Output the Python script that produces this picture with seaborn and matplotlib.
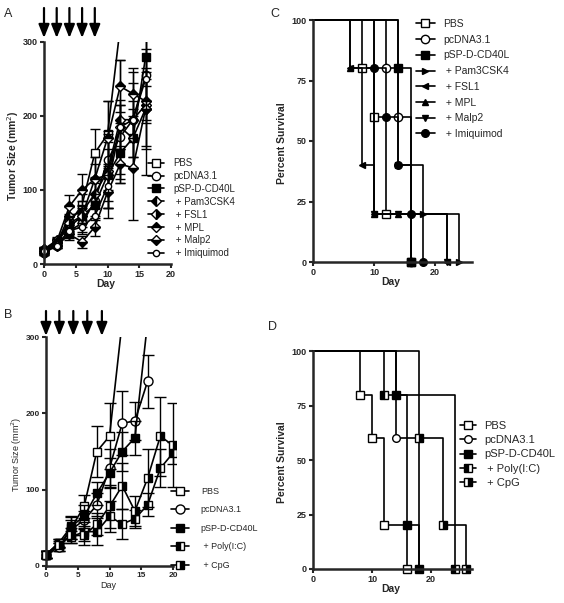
import numpy as np
import matplotlib
matplotlib.use('Agg')
import matplotlib.pyplot as plt
import seaborn as sns

# ---- data ----
# panel A: tumor growth (mm^2), days 0..16
days_a = [0, 2, 4, 6, 8, 10, 12, 14, 16]
pbs_a = [18, 30, 55, 80, 150, 175, 320]
pbs_a_err = [3, 5, 12, 15, 33, 45, 0]
pcdna_a = [15, 25, 45, 55, 85, 140, 172, 195, 255]
pcdna_a_err = [3, 4, 10, 12, 25, 40, 50, 50, 60]
psp_a = [18, 30, 50, 65, 80, 120, 150, 170, 280]
psp_a_err = [3, 4, 8, 10, 15, 45, 40, 25, 40]
pam3_a = [18, 28, 65, 70, 95, 125, 195, 195, 215]
pam3_a_err = [3, 4, 12, 15, 20, 50, 80, 65, 95]
fsl1_a = [20, 32, 55, 65, 115, 120, 185, 170, 210]
fsl1_a_err = [3, 4, 10, 15, 20, 35, 30, 40, 55]
mpl_a = [20, 30, 78, 100, 115, 170, 240, 230, 220]
mpl_a_err = [3, 4, 15, 22, 30, 50, 35, 35, 30]
malp2_a = [15, 25, 40, 30, 50, 97, 135, 130, 210]
malp2_a_err = [3, 3, 8, 8, 12, 35, 25, 70, 50]
imiq_a = [18, 25, 45, 50, 65, 105, 185, 195, 250]
imiq_a_err = [3, 3, 8, 10, 15, 30, 30, 25, 40]

# panel B: tumor growth, days 0..20
days_b = [0, 2, 4, 6, 8, 10, 12, 14, 16, 18, 20]
pbs_b = [15, 25, 50, 78, 150, 170, 320]
pbs_b_err = [4, 5, 15, 15, 33, 43, 0]
pcdna_b = [15, 25, 48, 60, 80, 128, 187, 190, 242]
pcdna_b_err = [4, 5, 12, 12, 15, 25, 42, 25, 35]
psp_b = [15, 30, 52, 65, 95, 122, 150, 168, 320]
psp_b_err = [4, 5, 12, 15, 15, 20, 25, 22, 0]
poly_b = [15, 30, 38, 45, 45, 65, 55, 62, 80, 128, 148]
poly_b_err = [4, 5, 8, 12, 18, 20, 20, 12, 15, 25, 15]
cpg_b = [15, 28, 40, 40, 55, 78, 105, 72, 115, 170, 158]
cpg_b_err = [4, 5, 10, 12, 15, 28, 30, 20, 38, 52, 55]

# panel C: survival (%)
pbs_c_day, pbs_c = [0, 8, 10, 12, 16], [100, 80, 60, 20, 0]
pcdna_c_day, pcdna_c = [0, 12, 14, 16], [100, 80, 60, 0]
psp_c_day, psp_c = [0, 14, 16], [100, 80, 0]
pam3_c_day, pam3_c = [0, 14, 18, 24], [100, 40, 20, 0]
fsl1_c_day, fsl1_c = [0, 6, 8, 10, 22], [100, 80, 40, 20, 0]
mpl_c_day, mpl_c = [0, 6, 10, 14, 16], [100, 80, 20, 20, 0]
malp2_c_day, malp2_c = [0, 10, 14, 22], [100, 20, 20, 0]
imiq_c_day, imiq_c = [0, 10, 12, 14, 16, 18], [100, 80, 60, 40, 20, 0]

# panel D: survival (%)
pbs_d_day, pbs_d = [0, 8, 10, 12, 16], [100, 80, 60, 20, 0]
pcdna_d_day, pcdna_d = [0, 14, 18], [100, 60, 0]
psp_d_day, psp_d = [0, 14, 16, 18], [100, 80, 20, 0]
poly_d_day, poly_d = [0, 12, 24], [100, 80, 0]
cpg_d_day, cpg_d = [0, 18, 22, 26], [100, 60, 20, 0]

labels_a = ['PBS', 'pcDNA3.1', 'pSP-D-CD40L', ' + Pam3CSK4', ' + FSL1', ' + MPL', ' + Malp2', ' + Imiquimod']
labels_b = ['PBS', 'pcDNA3.1', 'pSP-D-CD40L', ' + Poly(I:C)', ' + CpG']
arrow_days_a = [0, 2, 4, 6, 8]
arrow_days_b = [0, 2.1, 4.3, 6.5, 8.8]

# marker styles: (marker, fillstyle, size)
styles_a = [('s', 'none', 5.5), ('o', 'none', 6), ('s', 'full', 5.5), ('D', 'left', 5),
            ('D', 'right', 5), ('D', 'top', 5), ('D', 'bottom', 5), ('o', 'none', 4.5)]
styles_c = [('s', 'none', 5.5), ('o', 'none', 6), ('s', 'full', 5.5), ('>', 'full', 4.5),
            ('<', 'full', 4.5), ('^', 'full', 4.5), ('v', 'full', 4.5), ('o', 'full', 5.5)]
styles_b = [('s', 'none', 6), ('o', 'none', 6.5), ('s', 'full', 6), ('s', 'left', 6), ('s', 'right', 6)]

W, H = 564, 603
sns.set_style('ticks')
plt.rcParams['font.family'] = ['Liberation Sans', 'DejaVu Sans']

fig = plt.figure(figsize=(W / 100, H / 100), dpi=100)


def place(xpx, ypx, xdat, ydat, xlim, ylim):
    # axes rectangle from pixel positions of two known data values
    sx = (xpx[1] - xpx[0]) / (xdat[1] - xdat[0])
    sy = (ypx[1] - ypx[0]) / (ydat[1] - ydat[0])
    left = xpx[0] + (xlim[0] - xdat[0]) * sx
    right = xpx[0] + (xlim[1] - xdat[0]) * sx
    top = ypx[0] + (ylim[1] - ydat[0]) * sy
    bottom = ypx[0] + (ylim[0] - ydat[0]) * sy
    ax = fig.add_axes([left / W, 1 - bottom / H, (right - left) / W, (bottom - top) / H])
    ax.set_xlim(*xlim)
    ax.set_ylim(*ylim)
    return ax


def style_axes(ax, xb, yb, bold=True, size=6.5):
    sns.despine(ax=ax)
    ax.spines['left'].set_position(('data', 0))
    ax.spines['bottom'].set_position(('data', 0))
    ax.spines['left'].set_bounds(*yb)
    ax.spines['bottom'].set_bounds(*xb)
    for s in ['left', 'bottom']:
        ax.spines[s].set_linewidth(1.8)
    ax.tick_params(length=3, width=1.5, pad=1.5, labelsize=size)
    for t in ax.get_xticklabels() + ax.get_yticklabels():
        t.set_fontweight('bold' if bold else 'normal')


def draw_line(ax, x, y, st, label, **kw):
    m, fs, ms = st
    face = 'white' if fs == 'none' else 'black'
    sns.lineplot(x=x, y=y, ax=ax, color='black', lw=1.2, marker=m, markersize=ms,
                 markerfacecolor=face, markerfacecoloralt='white',
                 fillstyle='full' if fs == 'none' else fs,
                 markeredgecolor='black', markeredgewidth=1.0,
                 estimator=None, errorbar=None, label=label, **kw)


def arrows(ax, days, y_tail, y_tip):
    for d in days:
        ax.annotate('', xy=(d, 1 - y_tip / H), xycoords=('data', 'figure fraction'),
                    xytext=(d, 1 - y_tail / H), textcoords=('data', 'figure fraction'),
                    arrowprops=dict(arrowstyle='-|>,head_length=1.0,head_width=0.4',
                                    lw=1.6, color='black', shrinkA=0, shrinkB=0,
                                    mutation_scale=8),
                    annotation_clip=False)


# ---------- Panel A ----------
axA = place((44, 171), (264, 42), (0, 20), (0, 300), (-0.8, 20.4), (-8, 300))
series_a = [(pbs_a, pbs_a_err), (pcdna_a, pcdna_a_err), (psp_a, psp_a_err), (pam3_a, pam3_a_err),
            (fsl1_a, fsl1_a_err), (mpl_a, mpl_a_err), (malp2_a, malp2_a_err), (imiq_a, imiq_a_err)]
for (vals, errs), st, lab in zip(series_a, styles_a, labels_a):
    d = days_a[:len(vals)]
    axA.errorbar(d, vals, yerr=errs, fmt='none', ecolor='black', elinewidth=1, capsize=3.5, capthick=1)
    draw_line(axA, d, vals, st, lab)
axA.set_xticks([0, 5, 10, 15, 20])
axA.set_yticks([0, 100, 200, 300])
style_axes(axA, (0, 20), (0, 300))
axA.set_xlabel('Day', fontsize=7.5, fontweight='bold', labelpad=0)
axA.set_ylabel('Tumor Size (mm$^2$)', fontsize=7.5, fontweight='bold', labelpad=1)
axA.legend(loc='upper left', bbox_to_anchor=(148 / W, 1 - 158 / H), bbox_transform=fig.transFigure,
           frameon=False, fontsize=7, handlelength=1.6, handletextpad=1.0, labelspacing=0.3,
           borderpad=0, borderaxespad=0)
arrows(axA, arrow_days_a, 8, 38)

# ---------- Panel B ----------
axB = place((46, 173), (566, 337), (0, 20), (0, 300), (-0.8, 20.4), (-8, 300))
series_b = [(pbs_b, pbs_b_err), (pcdna_b, pcdna_b_err), (psp_b, psp_b_err),
            (poly_b, poly_b_err), (cpg_b, cpg_b_err)]
for (vals, errs), st, lab in zip(series_b, styles_b, labels_b):
    d = days_b[:len(vals)]
    axB.errorbar(d, vals, yerr=errs, fmt='none', ecolor='black', elinewidth=1, capsize=4, capthick=1)
    draw_line(axB, d, vals, st, lab)
axB.set_xticks([0, 5, 10, 15, 20])
axB.set_yticks([0, 100, 200, 300])
style_axes(axB, (0, 20), (0, 300), size=6)
axB.set_xlabel('Day', fontsize=6.5, labelpad=1)
axB.set_ylabel('Tumor Size (mm$^2$)', fontsize=6.5, labelpad=1)
axB.legend(loc='upper left', bbox_to_anchor=(171 / W, 1 - 487 / H), bbox_transform=fig.transFigure,
           frameon=False, fontsize=6.5, handlelength=2.0, handletextpad=1.3, labelspacing=1.05,
           borderpad=0, borderaxespad=0)
arrows(axB, arrow_days_b, 311, 336)

# ---------- Panel C ----------
axC = place((313, 435), (262, 20), (0, 20), (0, 100), (-0.8, 26.3), (-3, 101.5))
series_c = [(pbs_c_day, pbs_c), (pcdna_c_day, pcdna_c), (psp_c_day, psp_c), (pam3_c_day, pam3_c),
            (fsl1_c_day, fsl1_c), (mpl_c_day, mpl_c), (malp2_c_day, malp2_c), (imiq_c_day, imiq_c)]
for (d, s), st, lab in zip(series_c, styles_c, labels_a):
    draw_line(axC, d, s, st, lab, drawstyle='steps-post', markevery=list(range(1, len(d))))
axC.set_xticks([0, 10, 20])
axC.set_yticks([0, 25, 50, 75, 100])
style_axes(axC, (0, 26), (0, 100))
axC.set_xlabel('Day', fontsize=7.5, fontweight='bold', labelpad=0)
axC.set_ylabel('Percent Survival', fontsize=7.5, fontweight='bold', labelpad=3)
axC.legend(loc='upper left', bbox_to_anchor=(416 / W, 1 - 19 / H), bbox_transform=fig.transFigure,
           frameon=False, fontsize=7.5, handlelength=1.8, handletextpad=0.8, labelspacing=0.55,
           borderpad=0, borderaxespad=0)

# ---------- Panel D ----------
axD = place((313, 431), (569, 351), (0, 20), (0, 100), (-0.8, 27.3), (-3, 101.5))
series_d = [(pbs_d_day, pbs_d), (pcdna_d_day, pcdna_d), (psp_d_day, psp_d),
            (poly_d_day, poly_d), (cpg_d_day, cpg_d)]
for (d, s), st, lab in zip(series_d, styles_b, labels_b):
    st = (st[0], st[1], 5.5)
    draw_line(axD, d, s, st, lab, drawstyle='steps-post', markevery=list(range(1, len(d))))
axD.set_xticks([0, 10, 20])
axD.set_yticks([0, 25, 50, 75, 100])
style_axes(axD, (0, 27), (0, 100))
axD.set_xlabel('Day', fontsize=7.5, fontweight='bold', labelpad=0)
axD.set_ylabel('Percent Survival', fontsize=7.5, fontweight='bold', labelpad=3)
axD.legend(loc='upper left', bbox_to_anchor=(460 / W, 1 - 421 / H), bbox_transform=fig.transFigure,
           frameon=False, fontsize=8, handlelength=1.4, handletextpad=0.8, labelspacing=0.38,
           borderpad=0, borderaxespad=0)

# panel letters
for letter, x, y in [('A', 4, 17), ('B', 4, 318), ('C', 270, 17), ('D', 268, 330)]:
    fig.text(x / W, 1 - y / H, letter, fontsize=9, va='baseline', ha='left')

fig.savefig('out.png', dpi=100)
